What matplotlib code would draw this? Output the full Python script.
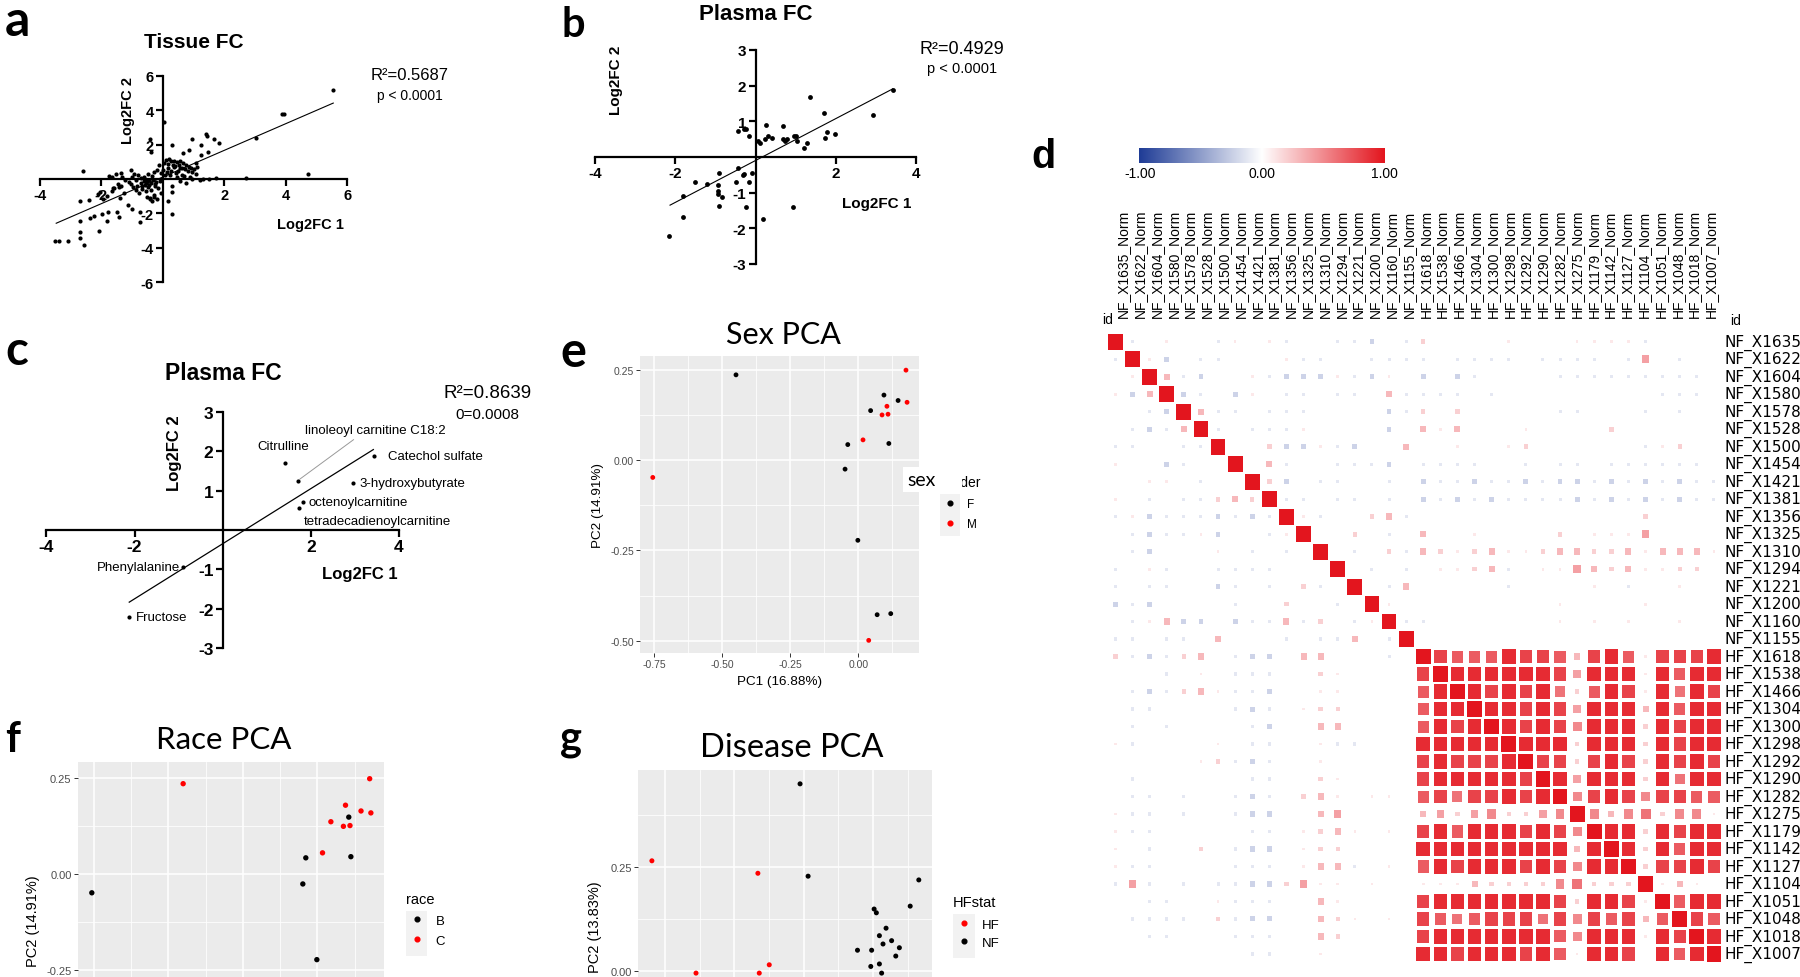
import numpy as np
import matplotlib
matplotlib.use('Agg')
import matplotlib.pyplot as plt
from matplotlib.patches import Rectangle
from matplotlib.lines import Line2D
from matplotlib.colors import LinearSegmentedColormap

# ======================= DATA =======================
# --- panel a : Tissue FC ---
a_x = [5.55, 3.89, 3.95, 3.05, 4.73, 2.70, 0.03, -0.42, -0.38, 0.31, 1.41, 1.46, 1.66, 1.82,
       0.96, 1.26, 0.85, 1.49, 1.26, 0.65, 1.07, -2.58,
       0.04, 0.12, 0.17, 0.22, 0.27, 0.33, 0.36, 0.41, 0.47, 0.52, 0.56, 0.63, 0.66, 0.72, 0.77,
       0.81, 0.87, 0.92, 0.97, 1.02, 1.08, 1.13, 0.19, 0.28, 0.43, 0.51, 0.62, 0.69, 0.14, 0.24,
       0.46, 0.58, 0.37, 0.08, 0.02, -0.12, -0.18, -0.27, -0.06, 0.88, 0.96, 1.22, 1.33, 1.52,
       1.74, 0.76, 0.57, 0.32, 0.31, 0.18, 0.29,
       -0.08, -0.21, -0.31, -0.43, -0.52, -0.58, -0.71, -0.83, -0.88, -1.02, -0.14, -0.26, -0.37,
       -0.46, -0.53, -0.66, -0.77, -0.86, -0.97, -1.08, -1.21, -0.04, -0.29, -0.51, -0.41, -0.19,
       -0.62, -0.79, -1.01, -0.48, -0.33, -0.69, -0.92, -1.31, -1.52, -1.73, -1.44, -1.61, -0.42,
       -0.36, -0.28, -0.72, -0.72,
       -0.55, -0.45, -0.62, -0.38, -0.25, -0.68, -1.65, -1.35, -1.03,
       -3.50, -3.38, -3.07, -2.69, -2.54, -2.69, -2.69, -2.07, -2.35, -2.24, -1.96, -1.82, -1.79,
       -1.42, -1.48, -2.69, -2.40, -2.02, -1.93, -1.65, -1.59, -1.42, -1.35, -1.37, -1.14, -0.98,
       -1.26, -2.10, -1.80]
a_y = [5.17, 3.77, 3.77, 2.38, 0.29, 0.08, 3.33, 2.32, 1.55, 1.99, 2.61, 2.51, 2.32, 2.09,
       2.32, 1.99, 1.68, 1.55, 1.39, 1.51, 0.91, 0.46,
       0.93, 1.12, 0.87, 1.18, 1.02, 0.84, 1.07, 0.76, 0.98, 0.81, 1.05, 0.66, 0.93, 0.58, 0.84,
       0.47, 0.72, 0.63, 0.38, 0.57, 0.27, 0.69, 0.62, 0.47, 0.33, 0.49, 0.26, 0.17, 0.41, 0.22,
       0.12, 0.64, 0.71, 0.24, 0.53, 0.83, 0.51, 0.42, 0.34, 0.09, 0.02, -0.03, 0.01, -0.02,
       0.03, -0.22, -0.13, -0.38, -0.73, -1.26, -2.03,
       -0.12, -0.18, -0.04, -0.33, -0.14, -0.37, -0.22, -0.43, -0.08, -0.31, -0.52, -0.41, -0.63,
       -0.48, -0.72, -0.57, -0.83, -0.61, -0.47, -0.19, -0.06, -0.84, -0.93, -1.02, -1.12, -1.18,
       0.12, 0.21, 0.14, 0.27, 0.18, 0.06, 0.31, 0.09, 0.28, 0.16, -0.29, -0.52, -1.16,
       -1.27, -1.04, -2.51, -1.93,
       -0.25, -0.05, -0.10, -0.22, -0.30, -0.40, 0.10, 0.35, 0.54,
       -3.58, -3.58, -3.58, -3.44, -3.81, -3.06, -2.42, -3.00, -2.28, -2.17, -2.03, -2.42, -1.90,
       -2.22, -1.93, -1.26, -1.22, -0.77, -1.16, -0.68, -0.54, -0.44, -0.39, -1.12, -1.51, -1.74,
       -0.83, -0.90, -1.00]
a_fit_x = [-3.46, 5.55]
a_fit_y = [-2.57, 4.41]

# --- panel b : Plasma FC ---
b_x = [3.42, 2.94, 1.37, 1.71, 1.77, 1.99, 1.72, 1.29, 1.21, 1.03, 0.96, 1.00, 0.68, 0.69,
       0.73, 0.78, 0.25, 0.23, 0.32, 0.42, 0.07, 0.11, -0.28, -0.24, -0.43, -0.15, -0.44, -0.32,
       -0.28, -0.08, -0.15, -0.49, -0.92, -0.93, -0.93, -0.93, -0.84, -0.92, -1.22, -1.51, -1.80,
       -1.80, -2.15, -0.24, 0.18, 0.94]
b_y = [1.89, 1.19, 1.69, 1.23, 0.69, 0.64, 0.53, 0.39, 0.26, 0.46, 0.60, 0.58, 0.88, 0.50,
       0.46, 0.50, 0.90, 0.50, 0.60, 0.53, 0.46, 0.39, 0.79, 0.79, 0.72, 0.60, -0.31, -0.50,
       -0.48, -0.45, -0.69, -0.69, -0.45, -0.79, -0.94, -1.04, -1.13, -1.36, -0.76, -0.71, -1.08,
       -1.69, -2.22, -1.41, -1.74, -1.41]
b_fit_x = [-2.13, 3.42]
b_fit_y = [-1.35, 1.91]

# --- panel c : Plasma FC (annotated) ---
c_names = ['Citrulline', 'linoleoyl carnitine C18:2', 'Catechol sulfate', '3-hydroxybutyrate',
           'octenoylcarnitine', 'tetradecadienoylcarnitine', 'Phenylalanine', 'Fructose']
c_x = [1.41, 1.72, 3.43, 2.95, 1.82, 1.74, -0.90, -2.13]
c_y = [1.69, 1.23, 1.88, 1.19, 0.70, 0.55, -0.95, -2.21]
c_fit_x = [-2.12, 3.42]
c_fit_y = [-1.83, 2.04]

# --- panels e / f : PCA (PC1 16.88 %, PC2 14.91 %) ---
pca_pc1 = [-0.450, 0.094, 0.146, 0.045, -0.039, 0.112, -0.049, -0.002, 0.069, 0.119,
           0.175, 0.179, 0.105, 0.109, 0.087, 0.017, -0.756, 0.038]
pca_pc2 = [0.236, 0.180, 0.165, 0.137, 0.043, 0.046, -0.025, -0.222, -0.428, -0.425,
           0.249, 0.160, 0.149, 0.127, 0.125, 0.056, -0.048, -0.499]
pca_sex = ['F', 'F', 'F', 'F', 'F', 'F', 'F', 'F', 'F', 'F',
           'M', 'M', 'M', 'M', 'M', 'M', 'M', 'M']
pca_race = ['C', 'C', 'C', 'C', 'B', 'B', 'B', 'B', 'B', 'B',
            'C', 'C', 'B', 'C', 'C', 'C', 'B', 'C']

# --- panel g : Disease PCA (PC2 13.83 %) ---
g_pc1 = [-0.797, -0.415, -0.374, -0.638, -0.410, -0.263, -0.234, 0.165, 0.134, 0.004, 0.012,
         0.047, 0.023, 0.036, 0.067, 0.095, 0.082, -0.056, -0.005, 0.023, -0.008, 0.031]
g_pc2 = [0.264, 0.234, 0.014, -0.006, -0.006, 0.449, 0.227, 0.218, 0.155, 0.148, 0.139,
         0.102, 0.084, 0.064, 0.072, 0.055, 0.035, 0.049, 0.049, 0.016, 0.010, -0.006]
g_status = ['HF', 'HF', 'HF', 'HF', 'HF'] + ['NF'] * 17

# --- panel d : correlation matrix (lower triangle, one char per cell) ---
d_ids = ['NF_X1635', 'NF_X1622', 'NF_X1604', 'NF_X1580', 'NF_X1578', 'NF_X1528', 'NF_X1500',
         'NF_X1454', 'NF_X1421', 'NF_X1381', 'NF_X1356', 'NF_X1325', 'NF_X1310', 'NF_X1294',
         'NF_X1221', 'NF_X1200', 'NF_X1160', 'NF_X1155', 'HF_X1618', 'HF_X1538', 'HF_X1466',
         'HF_X1304', 'HF_X1300', 'HF_X1298', 'HF_X1292', 'HF_X1290', 'HF_X1282', 'HF_X1275',
         'HF_X1179', 'HF_X1142', 'HF_X1127', 'HF_X1104', 'HF_X1051', 'HF_X1048', 'HF_X1018',
         'HF_X1007']
d_lower = [
    "",
    "a",
    ".1",
    "1b3",
    "..ab",
    ".aba3",
    "aa..aa",
    "1..ba..",
    "..11.a..",
    "1.a.aa232",
    "a1baaababa",
    ".abaa1b..a1",
    ".ab...1.a.a.",
    "a.1a..aaaa...",
    "a.aa..ba.a.2a.",
    "bab....a..2..a.",
    ".a13bb.baa3a2.a1",
    "aa.aa.3...a.aa3.a",
    "2aba23.abb.33...a.",
    "...a.1.aaa..21...." + "8",
    ".aba231aab..11...." + "79",
    ".aa....aba.122...." + "799",
    ".a.a....ab..33...." + "7989",
    "1a....1.aa..1aa..." + "99999",
    ".....12aba..1....." + "898889",
    ".a......aa..21...." + "8999998",
    ".aa.a..aba.231.11." + "78688989",
    "1aa.a..abb..34...." + "342452245",
    "1aa.....aa.1231.1." + "8979998985",
    "1.a..2.abb.122...." + "99999999939",
    "1aa....aaa.133a.1." + "798999898599",
    "a4a.a.aabb2411.1.." + "1113222256222",
    "..aa..1aaa..31...." + "89999999829981",
    ".aaaa.2abb..321.1." + "876788868587837",
    "..aa...aaa..32...." + "8999999975999198",
    "........aa..1....." + "9989998971998.979",
]
LEVEL = {'.': 0.0, 'a': -0.12, 'b': -0.22}
LEVEL.update({str(k): k / 10 for k in range(10)})
cbar_ticks = ['-1.00', '0.00', '1.00']

# ======================= LAYOUT =======================
W, H = 1800, 978
fig = plt.figure(figsize=(W / 100, H / 100), dpi=100)
fig.patch.set_facecolor('white')
ARIAL = ['Liberation Sans', 'DejaVu Sans']
CALI = ['Lato', 'Liberation Sans', 'DejaVu Sans']
WIDE = ['DejaVu Sans']


def rect(l, t, r, b):
    return [l / W, 1 - b / H, (r - l) / W, (b - t) / H]


over = fig.add_axes([0, 0, 1, 1], zorder=4)
over.set_xlim(0, W)
over.set_ylim(H, 0)
over.axis('off')
over.patch.set_alpha(0)


def T(x, y, s, size, weight='normal', fam=ARIAL, ha='center', va='center', **kw):
    over.text(x, y, s, fontsize=size, fontweight=weight, family=fam, ha=ha, va=va, **kw)


def prism(px, xlim, ylim, xt, yt, fs, lw=1.6):
    ax = fig.add_axes(rect(*px))
    ax.patch.set_alpha(0)
    ax.set_xlim(*xlim)
    ax.set_ylim(*ylim)
    for s in ('top', 'right'):
        ax.spines[s].set_visible(False)
    for s in ('left', 'bottom'):
        ax.spines[s].set_position(('data', 0))
        ax.spines[s].set_linewidth(lw)
    ax.set_xticks(xt)
    ax.set_yticks(yt)
    ax.set_xticklabels([f'{v:g}' for v in xt], fontsize=fs, fontweight='bold', family=ARIAL)
    ax.set_yticklabels([f'{v:g}' for v in yt], fontsize=fs, fontweight='bold', family=ARIAL)
    ax.tick_params(direction='out', length=5, width=lw, pad=1.5)
    return ax


# ---------------- panel a ----------------
ax_a = prism((39.6, 76.7, 347.1, 283.3), (-4, 6), (-6, 6), [-4, -2, 2, 4, 6],
             [-6, -4, -2, 2, 4, 6], 10.5)
ax_a.scatter(a_x, a_y, s=9, c='black', linewidths=0, zorder=3, clip_on=False)
ax_a.plot(a_fit_x, a_fit_y, color='black', lw=0.8, zorder=3)
T(5, 36, 'a', 36, 'bold', CALI, ha='left', va='baseline')
T(193.9, 42.7, 'Tissue FC', 15, 'bold')
T(128, 110, 'Log2FC 2', 10.5, 'bold', rotation=90)
T(310, 225, 'Log2FC 1', 10.5, 'bold')
T(409.8, 76, 'R²=0.5687', 12)
T(409.8, 95.7, 'p < 0.0001', 10)

# ---------------- panel b ----------------
ax_b = prism((595, 51, 916, 265), (-4, 4), (-3, 3), [-4, -2, 2, 4], [-3, -2, -1, 1, 2, 3], 11)
ax_b.scatter(b_x, b_y, s=12, c='black', linewidths=0, zorder=3, clip_on=False)
ax_b.plot(b_fit_x, b_fit_y, color='black', lw=0.8, zorder=3)
T(561, 36.7, 'b', 30, 'bold', CALI, ha='left', va='baseline')
T(756, 14.7, 'Plasma FC', 16, 'bold')
T(616, 80, 'Log2FC 2', 11, 'bold', rotation=90)
T(877, 203.7, 'Log2FC 1', 11, 'bold')
T(962, 49, 'R²=0.4929', 13)
T(962, 69, 'p < 0.0001', 10.5)

# ---------------- panel c ----------------
ax_c = prism((46.4, 412.7, 398.9, 649.3), (-4, 4), (-3, 3), [-4, -2, 2, 4],
             [-3, -2, -1, 1, 2, 3], 12.5)
ax_c.scatter(c_x, c_y, s=9, c='black', linewidths=0, zorder=3, clip_on=False)
ax_c.plot(c_fit_x, c_fit_y, color='black', lw=0.9, zorder=3)
c_label_pos = {  # (x, y, ha) in data units
    'Citrulline': (1.365, 2.14, 'center'),
    'linoleoyl carnitine C18:2': (1.875, 2.54, 'left'),
    'Catechol sulfate': (3.76, 1.885, 'left'),
    '3-hydroxybutyrate': (3.116, 1.19, 'left'),
    'octenoylcarnitine': (1.957, 0.70, 'left'),
    'tetradecadienoylcarnitine': (1.835, 0.237, 'left'),
    'Phenylalanine': (-0.96, -0.947, 'right'),
    'Fructose': (-1.974, -2.215, 'left'),
}
for name in c_names:
    lx, ly, lha = c_label_pos[name]
    ax_c.text(lx, ly, name, fontsize=9.5, family=ARIAL, ha=lha, va='center', zorder=4)
ax_c.plot([1.755, 2.97], [1.293, 2.29], color='#999999', lw=0.7, zorder=2)
T(5, 365, 'c', 34, 'bold', CALI, ha='left', va='baseline')
T(223.2, 373.3, 'Plasma FC', 16.5, 'bold')
T(175, 453.3, 'Log2FC 2', 12, 'bold', rotation=90)
T(360, 575, 'Log2FC 1', 12, 'bold')
T(487.5, 393.3, 'R²=0.8639', 13.5)
T(487.5, 415, '0=0.0008', 11)


# ---------------- ggplot-style PCA panels ----------------
def gg(px, xlim, ylim, xmaj, xmin, ymaj, ymin, fs):
    ax = fig.add_axes(rect(*px))
    ax.set_facecolor('#EBEBEB')
    for s in ax.spines.values():
        s.set_visible(False)
    ax.set_xlim(*xlim)
    ax.set_ylim(*ylim)
    ax.set_xticks(xmaj)
    ax.set_xticks(xmin, minor=True)
    ax.set_yticks(ymaj)
    ax.set_yticks(ymin, minor=True)
    ax.set_xticklabels([f'{v:.2f}' for v in xmaj], family=ARIAL)
    ax.set_yticklabels([f'{v:.2f}' for v in ymaj], family=ARIAL)
    ax.grid(True, which='major', color='white', lw=1.1)
    ax.grid(True, which='minor', color='white', lw=0.55)
    ax.set_axisbelow(True)
    ax.tick_params(which='minor', length=0)
    ax.tick_params(which='major', length=2.8, width=0.7, color='#333333',
                   labelcolor='#4D4D4D', labelsize=fs, pad=1.5)
    return ax


XMAJ = [-0.75, -0.5, -0.25, 0.0]
XMIN = [-0.625, -0.375, -0.125, 0.125]
COL = {'F': 'black', 'M': 'red', 'B': 'black', 'C': 'red', 'HF': 'red', 'NF': 'black'}


def key_legend(labels, x0, y0, fs, spacing, pad):
    handles = [Line2D([], [], marker='o', ls='', color=COL[l], ms=3.4) for l in labels]
    fig.legend(handles, labels, loc='upper left', bbox_to_anchor=(x0 / W, 1 - y0 / H),
               frameon=False, borderpad=0, handlelength=1.0, handletextpad=pad,
               labelspacing=spacing, borderaxespad=0, prop={'family': ARIAL, 'size': fs})


# e : Sex PCA
ax_e = gg((640, 356.7, 919.3, 654), (-0.803, 0.224), (-0.534, 0.289), XMAJ, XMIN,
          [-0.5, -0.25, 0.0, 0.25], [-0.375, -0.125, 0.125], 7.5)
ax_e.scatter(pca_pc1, pca_pc2, s=12, c=[COL[s] for s in pca_sex], linewidths=0, zorder=3)
T(560, 366.7, 'e', 35, 'bold', CALI, ha='left', va='baseline')
T(783, 335, 'Sex PCA', 22, fam=CALI)
T(780, 682, 'PC1 (16.88%)', 9.7)
T(598, 505, 'PC2 (14.91%)', 9.7, rotation=90)
over.add_patch(Rectangle((940, 495), 20, 42, facecolor='#F2F2F2', edgecolor='none'))
T(981, 483, 'gender', 10, ha='right', zorder=3)
over.add_patch(Rectangle((903, 468), 59, 25, facecolor='white', edgecolor='none', zorder=5))
T(907, 481, 'sex', 14, fam=CALI, ha='left', zorder=6)
key_legend(['F', 'M'], 944.1, 499.2, 8.5, 0.63, 0.94)

# f : Race PCA
ax_f = gg((77.5, 763.3, 384, 1080.5), (-0.804, 0.223), (-0.534, 0.2917), XMAJ, XMIN,
          [-0.5, -0.25, 0.0, 0.25], [-0.375, -0.125, 0.125], 8)
ax_f.scatter(pca_pc1, pca_pc2, s=15, c=[COL[r] for r in pca_race], linewidths=0, zorder=3)
T(5, 751.7, 'f', 30, 'bold', CALI, ha='left', va='baseline')
T(223.8, 740, 'Race PCA', 22.5, fam=CALI)
T(32.7, 921, 'PC2 (14.91%)', 10.5, rotation=90)
over.add_patch(Rectangle((406, 911.7), 21, 45, facecolor='#F2F2F2', edgecolor='none'))
T(406, 900, 'race', 10.5, ha='left')
key_legend(['B', 'C'], 410.8, 915.7, 9.5, 0.57, 0.88)

# g : Disease PCA
ax_g = gg((638.3, 770.7, 931.7, 1138), (-0.846, 0.2115), (-0.4, 0.483), XMAJ, XMIN,
          [0.0, 0.25], [-0.125, 0.125, 0.375], 8)
ax_g.scatter(g_pc1, g_pc2, s=13, c=[COL[s] for s in g_status], linewidths=0, zorder=3)
T(560, 750, 'g', 30, 'bold', CALI, ha='left', va='baseline')
T(792, 748, 'Disease PCA', 23.5, fam=CALI)
T(595, 927, 'PC2 (13.83%)', 10.5, rotation=90)
over.add_patch(Rectangle((953, 915), 22, 44, facecolor='#F2F2F2', edgecolor='none'))
T(953, 903, 'HFstat', 10.5, ha='left')
key_legend(['HF', 'NF'], 957.4, 919.4, 9.5, 0.44, 0.86)

# ---------------- panel d : correlation matrix ----------------
N = len(d_ids)
M = np.eye(N)
for i, row in enumerate(d_lower):
    for j, ch in enumerate(row):
        M[i, j] = M[j, i] = LEVEL[ch]

cmap = LinearSegmentedColormap.from_list('bwr_d', ['#1F3C96', '#FFFFFF', '#E3151E'])
ax_d = fig.add_axes(rect(1106.9, 334, 1722.5, 963.7))
ax_d.set_xlim(-0.5, N - 0.5)
ax_d.set_ylim(N - 0.5, -0.5)
ax_d.axis('off')
for i in range(N):
    for j in range(N):
        v = M[i, j]
        if v == 0:
            continue
        f = abs(v) ** 0.75
        w, h = 0.86 * f, 0.9 * f
        ax_d.add_patch(Rectangle((j - w / 2, i - h / 2), w, h,
                                 facecolor=cmap((v + 1) / 2), edgecolor='none'))

labels = [s + '_Norm' for s in d_ids]
for k, lab in enumerate(labels):
    cx = 1123 + 16.8 * k
    T(cx, 318, lab, 10, ha='center', va='bottom', rotation=90)
    ry = 342.7 + 17.5 * k
    T(1725, ry, lab, 11, fam=WIDE, ha='left', va='center')
T(1108, 320, 'id', 10)
T(1736, 321, 'id', 10)

ax_cb = fig.add_axes(rect(1139, 149.3, 1384.6, 164))
ax_cb.imshow(np.linspace(-1, 1, 256)[None, :], cmap=cmap, aspect='auto')
ax_cb.axis('off')
for xpos, t in zip([1140.5, 1261.8, 1384.6], cbar_ticks):
    T(xpos, 174, t, 10)
T(1031, 168.3, 'd', 28.5, 'bold', ARIAL, ha='left', va='baseline')

fig.savefig('out.png', dpi=100, facecolor='white')
